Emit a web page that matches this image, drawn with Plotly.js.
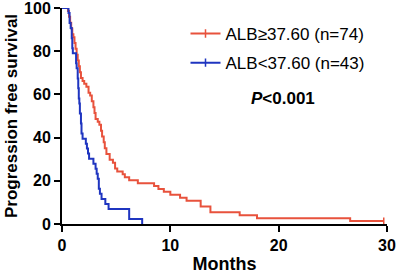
<!DOCTYPE html>
<html>
<head>
<meta charset="utf-8">
<script src="https://cdn.plot.ly/plotly-3.0.1.min.js"></script>
<style>html,body{margin:0;padding:0;background:#fff;}#chart{width:398px;height:274px;}</style>
</head>
<body>
<div id="chart"></div>
<script>
// Kaplan-Meier step points (months, % progression free)
var highMonths = [0, 0.55, 0.65, 0.75, 0.85, 0.95, 1.05, 1.15, 1.25, 1.35, 1.45, 1.55, 1.65, 1.75, 1.9, 2.05, 2.25, 2.45, 2.6, 2.75, 2.9, 3.0, 3.1, 3.3, 3.45, 3.6, 3.7, 3.85, 3.95, 4.1, 4.4, 4.7, 4.9, 5.1, 5.6, 5.8, 6.2, 7.0, 8.5, 8.9, 9.4, 10.0, 10.9, 11.5, 12.8, 13.7, 16.4, 18.0, 26.6, 29.7];
var highSurv   = [100, 98.6, 95.9, 93.2, 90.5, 87.8, 86.5, 83.8, 81.1, 78.4, 75.7, 73.0, 70.3, 67.6, 66.2, 64.9, 63.5, 60.8, 59.5, 56.8, 54.1, 51.4, 48.6, 47.3, 45.9, 43.2, 40.5, 37.8, 35.1, 32.4, 29.7, 28.4, 25.7, 24.3, 23.0, 21.6, 20.3, 18.9, 17.6, 16.2, 14.9, 13.5, 12.2, 10.8, 8.1, 5.4, 4.1, 2.7, 1.35, 1.35];
var lowMonths = [0, 0.6, 0.7, 0.8, 0.9, 0.95, 1.0, 1.3, 1.35, 1.45, 1.5, 1.55, 1.6, 1.65, 1.75, 1.8, 1.9, 2.2, 2.3, 2.4, 2.5, 2.9, 3.1, 3.2, 3.3, 3.4, 3.5, 3.65, 4.0, 4.3, 6.2, 7.4];
var lowSurv   = [100, 97.7, 93.0, 90.7, 86.0, 81.4, 79.1, 74.4, 72.1, 67.4, 62.8, 58.1, 55.8, 51.2, 46.5, 41.9, 39.5, 37.2, 34.9, 32.6, 30.2, 27.9, 25.6, 23.3, 20.9, 16.3, 14.0, 11.6, 9.3, 7.0, 2.3, 0];
var highCensorMonths = [29.7];
var highCensorSurv = [1.35];
var seriesNames = ["ALB\u226537.60 (n=74)", "ALB<37.60 (n=43)"];
var xTicks = [0, 10, 20, 30];
var yTicks = [0, 20, 40, 60, 80, 100];

var RED = '#E8523C', BLUE = '#1F35C0';
var FONT = 'Liberation Sans, Arial, Helvetica, sans-serif';

var traces = [
  {x: highMonths, y: highSurv, mode: 'lines', line: {shape: 'hv', color: RED, width: 2}, showlegend: false, hoverinfo: 'skip'},
  {x: lowMonths, y: lowSurv, mode: 'lines', line: {shape: 'hv', color: BLUE, width: 2}, showlegend: false, hoverinfo: 'skip'},
  {x: highCensorMonths, y: highCensorSurv, mode: 'markers', marker: {symbol: 'line-ns-open', size: 5, color: RED, line: {color: RED, width: 1.5}}, showlegend: false, cliponaxis: false},
  {x: [null], y: [null], name: seriesNames[0], mode: 'lines+markers', legendgroup: 'a', line: {color: RED, width: 2}, marker: {symbol: 'line-ns-open', size: 6, color: RED, line: {color: RED, width: 1.5}}},
  {x: [null], y: [null], name: seriesNames[1], mode: 'lines+markers', legendgroup: 'b', line: {color: BLUE, width: 2}, marker: {symbol: 'line-ns-open', size: 6, color: BLUE, line: {color: BLUE, width: 1.5}}}
];

var layout = {
  width: 398, height: 274,
  margin: {l: 62, r: 11, t: 8, b: 50},
  paper_bgcolor: '#fff', plot_bgcolor: '#fff',
  font: {family: FONT, color: '#000'},
  xaxis: {
    range: [0, 30], tickvals: xTicks, ticks: 'outside', ticklen: 6, tickwidth: 2, tickcolor: '#000',
    showline: true, linewidth: 2, linecolor: '#000', showgrid: false, zeroline: false,
    ticklabeloverflow: 'allow',
    tickfont: {family: FONT, size: 16, weight: 'bold', color: '#000'},
    title: {text: 'Months', font: {family: FONT, size: 18, weight: 'bold', color: '#000'}, standoff: 8}
  },
  yaxis: {
    range: [0, 100], tickvals: yTicks, ticks: 'outside', ticklen: 6, tickwidth: 2, tickcolor: '#000',
    showline: true, linewidth: 2, linecolor: '#000', showgrid: false, zeroline: false,
    ticklabeloverflow: 'allow',
    tickfont: {family: FONT, size: 16, weight: 'bold', color: '#000'},
    title: {text: 'Progression free survival', font: {family: FONT, size: 17, weight: 'bold', color: '#000'}, standoff: 2}
  },
  showlegend: true,
  legend: {x: 0.38, xanchor: 'left', y: 0.963, yanchor: 'top', bgcolor: 'rgba(0,0,0,0)',
           font: {family: FONT, size: 17, color: '#000'}, traceorder: 'grouped', tracegroupgap: 4, itemwidth: 30},
  annotations: [{
    xref: 'paper', yref: 'paper', x: 0.68, y: 0.58, xanchor: 'center', yanchor: 'middle', showarrow: false,
    text: '<b><i>P</i>&lt;0.001</b>', font: {family: FONT, size: 17, color: '#000'}
  }]
};

Plotly.newPlot('chart', traces, layout, {staticPlot: true, displayModeBar: false});
</script>
</body>
</html>
